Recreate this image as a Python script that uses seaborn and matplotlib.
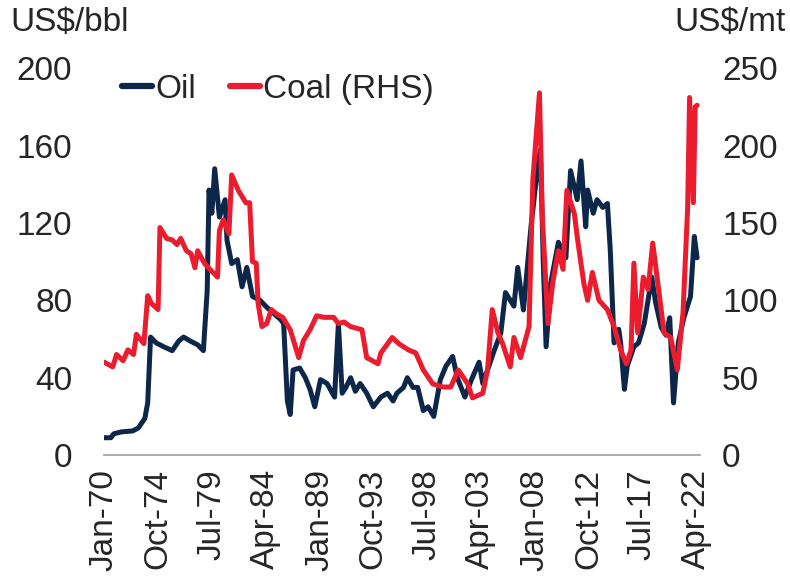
import pandas as pd
import matplotlib
matplotlib.use("Agg")
import matplotlib.pyplot as plt
import matplotlib.dates as mdates
import seaborn as sns

sns.set_theme(style="white")
plt.rcParams["font.family"] = ["Liberation Sans", "DejaVu Sans"]

# ── Data ─────────────────────────────────────────────────────────────
oil_dates = [
    "1970-01", "1970-08", "1970-11", "1971-07", "1972-07", "1973-01", "1973-08", "1973-11",
    "1974-02", "1974-08", "1975-04", "1976-01", "1976-08", "1977-01", "1977-08", "1978-04",
    "1978-10", "1979-02", "1979-04", "1979-07", "1979-10", "1980-03", "1980-09", "1980-11",
    "1981-04", "1981-10", "1982-03", "1982-08", "1983-02", "1983-10", "1984-06", "1985-01",
    "1985-08", "1985-11", "1986-03", "1986-06", "1986-09", "1987-04", "1987-10", "1988-03",
    "1988-08", "1989-02", "1989-09", "1990-05", "1990-09", "1991-01", "1991-05", "1991-10",
    "1992-03", "1992-08", "1993-03", "1993-10", "1994-06", "1995-01", "1995-07", "1995-11",
    "1996-06", "1996-10", "1997-04", "1997-09", "1998-03", "1998-08", "1999-02", "1999-09",
    "2000-03", "2000-10", "2001-03", "2001-11", "2002-06", "2003-02", "2003-06", "2003-11",
    "2004-06", "2005-01", "2005-06", "2006-03", "2006-07", "2007-01", "2007-09", "2008-02",
    "2008-07", "2008-10", "2009-01", "2009-06", "2010-02", "2010-10", "2011-03", "2011-10",
    "2012-02", "2012-07", "2012-09", "2013-03", "2013-07", "2014-01", "2014-06", "2014-09",
    "2015-01", "2015-06", "2015-08", "2015-12", "2016-03", "2016-10", "2017-03", "2017-09",
    "2018-05", "2018-09", "2019-03", "2019-08", "2019-12", "2020-04", "2020-09", "2021-03",
    "2021-10", "2022-02", "2022-05",
]
oil_values = [
    9, 9, 11, 12, 12.5, 14, 19, 27,
    61, 58, 56, 54, 59, 61, 59, 57,
    54, 85, 137, 125, 148, 123, 132, 111,
    99, 101, 87, 97, 82, 80, 76, 73,
    70, 68, 28, 21, 44, 45, 40, 34,
    25, 39, 37, 30, 68, 32, 35, 40,
    33, 37, 32, 25, 30, 32, 28, 32,
    35, 40, 35, 35, 23, 25, 20, 39,
    46, 51, 40, 30, 39, 48, 37, 44,
    54, 63, 84, 77, 97, 75, 118, 140,
    158, 100, 56, 89, 110, 102, 147, 132,
    152, 118, 137, 125, 132, 128, 130, 106,
    58, 65, 58, 34, 46, 56, 58, 68,
    92, 79, 66, 62, 71, 27, 58, 71,
    82, 113, 102,
]

coal_dates = [
    "1970-01", "1970-10", "1971-02", "1971-09", "1972-02", "1972-08", "1972-11", "1973-07",
    "1973-11", "1974-03", "1974-10", "1974-12", "1975-07", "1976-01", "1976-06", "1976-10",
    "1977-04", "1977-09", "1978-01", "1978-04", "1978-11", "1979-05", "1980-01", "1980-03",
    "1980-07", "1981-01", "1981-04", "1981-11", "1982-07", "1982-11", "1983-02", "1983-06",
    "1983-08", "1983-12", "1984-05", "1984-10", "1985-04", "1985-10", "1986-06", "1987-03",
    "1987-08", "1988-03", "1988-10", "1989-06", "1990-04", "1990-09", "1991-03", "1991-10",
    "1992-10", "1993-03", "1994-03", "1994-06", "1995-06", "1996-01", "1996-06", "1996-11",
    "1997-07", "1998-03", "1999-01", "1999-12", "2000-08", "2001-04", "2002-02", "2002-07",
    "2003-06", "2003-11", "2004-04", "2004-10", "2005-03", "2005-11", "2006-03", "2006-10",
    "2007-07", "2007-11", "2008-06", "2008-09", "2009-03", "2009-08", "2010-02", "2010-07",
    "2010-11", "2011-07", "2011-10", "2012-05", "2012-09", "2013-02", "2013-09", "2014-06",
    "2015-01", "2015-08", "2016-02", "2016-07", "2016-10", "2017-02", "2017-08", "2018-01",
    "2018-06", "2018-11", "2019-06", "2020-01", "2020-08", "2021-02", "2021-07", "2021-09",
    "2022-01", "2022-03", "2022-05",
]
coal_values = [
    60, 57, 65, 61, 68, 65, 78, 72,
    103, 98, 94, 147, 140, 139, 136, 140,
    132, 130, 121, 132, 124, 120, 115, 145,
    152, 143, 181, 171, 163, 163, 125, 124,
    98, 83, 85, 94, 91, 89, 81, 63,
    74, 81, 90, 89, 89, 85, 86, 83,
    81, 63, 59, 66, 76, 72, 70, 68,
    66, 55, 46, 44, 44, 55, 46, 37,
    40, 55, 94, 79, 72, 57, 76, 63,
    83, 178, 234, 154, 85, 111, 132, 120,
    171, 156, 141, 111, 100, 118, 100, 94,
    83, 68, 59, 68, 124, 79, 115, 107,
    137, 113, 79, 76, 55, 92, 160, 231,
    163, 225, 226,
]

oil = pd.DataFrame({"date": pd.to_datetime(oil_dates), "price": oil_values})
coal = pd.DataFrame({"date": pd.to_datetime(coal_dates), "price": coal_values})

NAVY = "#0c2749"
RED = "#ea1c2d"
FS = 24

# ── Plot ─────────────────────────────────────────────────────────────
fig = plt.figure(figsize=(7.9, 5.82), dpi=100)
ax = fig.add_axes([0.132, 0.218, 0.754, 0.665])
ax2 = ax.twinx()

sns.lineplot(data=oil, x="date", y="price", ax=ax, color=NAVY, linewidth=3.6, label="Oil", legend=False)
sns.lineplot(data=coal, x="date", y="price", ax=ax2, color=RED, linewidth=3.6, label="Coal (RHS)", legend=False)

ax.set_ylim(0, 200)
ax2.set_ylim(0, 250)
ax.set_yticks(range(0, 201, 40))
ax2.set_yticks(range(0, 251, 50))
ax.set_xlim(pd.Timestamp("1970-01-01"), pd.Timestamp("2022-08-01"))

ticks = pd.date_range("1970-01-01", periods=12, freq="57MS")
ax.set_xticks(ticks)
ax.xaxis.set_major_formatter(mdates.DateFormatter("%b-%y"))

for a in (ax, ax2):
    a.set_xlabel("")
    a.set_ylabel("")
    for s in a.spines.values():
        s.set_visible(False)
    a.grid(False)
ax.spines["bottom"].set_visible(True)
ax.spines["bottom"].set_color("#a0a0a0")
ax.spines["bottom"].set_linewidth(1.2)

ax.tick_params(axis="x", labelsize=FS, rotation=90, length=0, pad=10)
ax.tick_params(axis="y", labelsize=FS, length=0, pad=23)
ax2.tick_params(axis="y", labelsize=FS, length=0, pad=16)

fig.text(0.013, 0.962, "US$/bbl", fontsize=FS, ha="left", va="center")
fig.text(0.995, 0.962, "US$/mt", fontsize=FS, ha="right", va="center")

h1, l1 = ax.get_legend_handles_labels()
h2, l2 = ax2.get_legend_handles_labels()
leg = ax2.legend(h1 + h2, l1 + l2, loc="upper left", bbox_to_anchor=(0.03, 0.985),
                 ncol=2, frameon=False, fontsize=FS, handlelength=0.9,
                 handletextpad=0.1, columnspacing=1.0, borderpad=0.0, borderaxespad=0.0)
for line in leg.get_lines():
    line.set_linewidth(4.5)

fig.savefig("out.png", dpi=100)
